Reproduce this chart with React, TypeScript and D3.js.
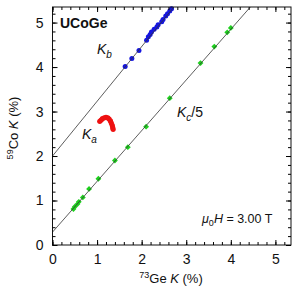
import React, { useEffect, useRef } from 'react';
import * as d3 from 'd3';

// 73Ge K (%) vs 59Co K (%)
const kbGe = [1.63, 1.78, 1.94, 2.11, 2.15, 2.19, 2.22, 2.28, 2.34, 2.37, 2.45, 2.48, 2.54, 2.58, 2.63, 2.67];
const kbCo = [4.01, 4.19, 4.37, 4.6, 4.68, 4.73, 4.79, 4.85, 4.9, 4.95, 5.02, 5.07, 5.15, 5.2, 5.26, 5.31];

const kaGe = [1.06, 1.09, 1.12, 1.16, 1.2, 1.24, 1.27, 1.3, 1.32, 1.34, 1.35, 1.36];
const kaCo = [2.78, 2.81, 2.84, 2.86, 2.87, 2.86, 2.83, 2.79, 2.74, 2.69, 2.64, 2.6];

const kcGe = [0.47, 0.5, 0.56, 0.59, 0.68, 0.82, 1.03, 1.4, 1.69, 2.1, 2.63, 3.32, 3.63, 3.92, 4.0];
const kcCo = [0.81, 0.86, 0.92, 0.97, 1.07, 1.26, 1.49, 1.9, 2.2, 2.66, 3.3, 4.09, 4.46, 4.78, 4.88];

// fit lines: [intercept, slope]
const fitB = [2.0, 1.23];
const fitC = [0.29, 1.14];

const ticks = [0, 1, 2, 3, 4, 5];

const App = () => {
  const svgRef = useRef(null);

  useEffect(() => {
    const width = 295;
    const height = 295;
    const margin = { left: 52.5, top: 7, right: 4, bottom: 50 };
    const font = '"Liberation Sans", Arial, sans-serif';

    const svg = d3.select(svgRef.current);
    svg.selectAll('*').remove();

    const x = d3.scaleLinear().domain([0, 5.35]).range([margin.left, width - margin.right]);
    const y = d3.scaleLinear().domain([0, 5.35]).range([height - margin.bottom, margin.top]);

    svg.append('clipPath').attr('id', 'plotclip')
      .append('rect')
      .attr('x', margin.left).attr('y', margin.top)
      .attr('width', x.range()[1] - margin.left)
      .attr('height', y.range()[0] - margin.top);

    // points
    svg.append('g').selectAll('circle')
      .data(kbGe)
      .enter()
      .append('circle')
      .attr('cx', d => x(d))
      .attr('cy', (d, i) => y(kbCo[i]))
      .attr('r', 2.5)
      .attr('fill', '#1515e0');

    svg.append('g').selectAll('circle')
      .data(kaGe)
      .enter()
      .append('circle')
      .attr('cx', d => x(d))
      .attr('cy', (d, i) => y(kaCo[i]))
      .attr('r', 2.6)
      .attr('fill', '#ee1111');

    const diamond = d3.symbol().type(d3.symbolSquare).size(17);
    svg.append('g').selectAll('path')
      .data(kcGe)
      .enter()
      .append('path')
      .attr('d', diamond)
      .attr('transform', (d, i) => `translate(${x(d)},${y(kcCo[i])}) rotate(45)`)
      .attr('fill', '#1ecf1e');

    // fit lines on top of the markers
    const line = d3.line().x(d => x(d[0])).y(d => y(d[1]));
    [fitB, fitC].forEach(f => {
      svg.append('path')
        .attr('clip-path', 'url(#plotclip)')
        .attr('d', line([[0, f[0]], [5.35, f[0] + f[1] * 5.35]]))
        .attr('fill', 'none')
        .attr('stroke', '#333')
        .attr('stroke-width', 0.8);
    });

    // frame
    svg.append('rect')
      .attr('x', margin.left).attr('y', margin.top)
      .attr('width', x.range()[1] - margin.left)
      .attr('height', y.range()[0] - margin.top)
      .attr('fill', 'none')
      .attr('stroke', '#111')
      .attr('stroke-width', 1);

    // ticks, inward on all sides
    const minor = d3.range(0, 5.35, 0.2);
    const axes = [
      { ax: d3.axisBottom(x), tr: `translate(0,${y.range()[0]})`, labels: true },
      { ax: d3.axisTop(x), tr: `translate(0,${margin.top})`, labels: false },
      { ax: d3.axisLeft(y), tr: `translate(${margin.left},0)`, labels: true },
      { ax: d3.axisRight(y), tr: `translate(${x.range()[1]},0)`, labels: false },
    ];
    axes.forEach(a => {
      const gMinor = svg.append('g').attr('transform', a.tr)
        .call(a.ax.tickValues(minor).tickSize(-3).tickFormat(() => ''));
      gMinor.select('.domain').remove();
      const g = svg.append('g').attr('transform', a.tr)
        .call(a.ax.tickValues(ticks).tickSize(-5).tickPadding(9).tickFormat(d3.format('d')));
      g.select('.domain').remove();
      g.selectAll('text')
        .style('font-family', font)
        .style('font-size', '14px')
        .attr('fill', '#111')
        .attr('opacity', a.labels ? 1 : 0);
    });

    const txt = (px, py, size) => svg.append('text')
      .attr('x', px).attr('y', py)
      .style('font-family', font)
      .style('font-size', size)
      .attr('fill', '#111');

    txt(60, 28, '14px').style('font-weight', 'bold').text('UCoGe');

    const kb = txt(97, 54, '14px');
    kb.append('tspan').style('font-style', 'italic').text('K');
    kb.append('tspan').attr('dy', 4).style('font-size', '10px').style('font-style', 'italic').text('b');

    const ka = txt(82, 139, '14px');
    ka.append('tspan').style('font-style', 'italic').text('K');
    ka.append('tspan').attr('dy', 4).style('font-size', '10px').style('font-style', 'italic').text('a');

    const kc = txt(177, 117, '14px');
    kc.append('tspan').style('font-style', 'italic').text('K');
    kc.append('tspan').attr('dy', 4).style('font-size', '10px').style('font-style', 'italic').text('c');
    kc.append('tspan').attr('dy', -4).text('/5');

    const mh = txt(202, 223, '12.5px');
    mh.append('tspan').style('font-style', 'italic').text('μ');
    mh.append('tspan').attr('dy', 3).style('font-size', '9px').text('0');
    mh.append('tspan').attr('dy', -3).style('font-style', 'italic').text('H');
    mh.append('tspan').text(' = 3.00 T');

    const xl = txt(171, 283, '13px').attr('text-anchor', 'middle');
    xl.append('tspan').attr('dy', -5).style('font-size', '9px').text('73');
    xl.append('tspan').attr('dy', 5).text('Ge ');
    xl.append('tspan').style('font-style', 'italic').text('K');
    xl.append('tspan').text(' (%)');

    const yl = txt(0, 0, '13px').attr('text-anchor', 'middle')
      .attr('transform', `translate(18,128) rotate(-90)`);
    yl.append('tspan').attr('dy', -5).style('font-size', '9px').text('59');
    yl.append('tspan').attr('dy', 5).text('Co ');
    yl.append('tspan').style('font-style', 'italic').text('K');
    yl.append('tspan').text(' (%)');
  }, []);

  return (
    <svg ref={svgRef} width={295} height={295}
      style={{ position: 'absolute', left: 0, top: 0, background: '#fff' }} />
  );
};

export default App;
